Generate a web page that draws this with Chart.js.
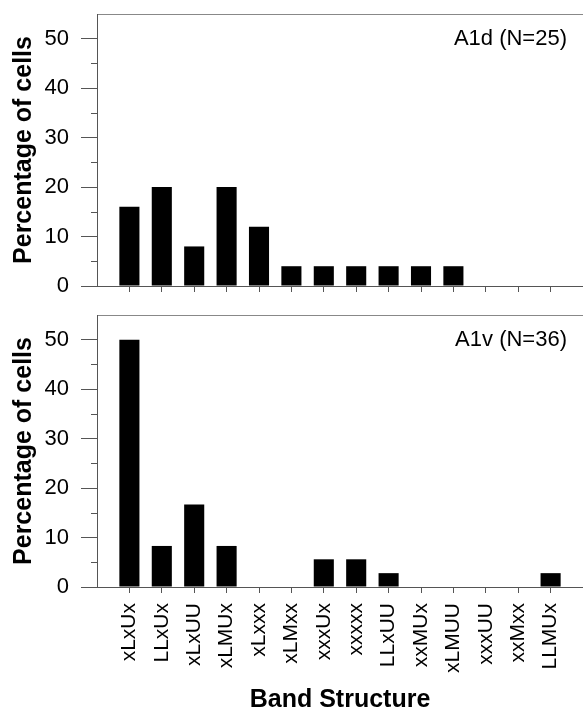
<!DOCTYPE html>
<html>
<head>
<meta charset="utf-8">
<script src="https://cdn.jsdelivr.net/npm/chart.js@4"></script>
<style>
  body { margin: 0; background: #fff; }
  canvas { display: block; }
</style>
</head>
<body>
<canvas id="top" width="583" height="300"></canvas>
<canvas id="bottom" width="583" height="413"></canvas>
<script>
const categories = ['xLxUx', 'LLxUx', 'xLxUU', 'xLMUx', 'xLxxx', 'xLMxx', 'xxxUx',
                    'xxxxx', 'LLxUU', 'xxMUx', 'xLMUU', 'xxxUU', 'xxMxx', 'LLMUx'];
const a1dValues = [16, 20, 8, 20, 12, 4, 4, 4, 4, 4, 4, 0, 0, 0];
const a1vValues = [50, 8.3, 16.7, 8.3, 0, 0, 5.6, 5.6, 2.8, 0, 0, 0, 0, 2.8];
const yTicks = [0, 10, 20, 30, 40, 50];
const minorTicks = [5, 15, 25, 35, 45];
const a1dLabel = 'A1d (N=25)';
const a1vLabel = 'A1v (N=36)';

const FONT = "'Liberation Sans', Arial, sans-serif";
const AXIS = '#555';

// minor y ticks + panel label inside the plot
const extras = {
  id: 'extras',
  afterDraw(chart) {
    const ctx = chart.ctx, y = chart.scales.y, area = chart.chartArea;
    ctx.save();
    ctx.strokeStyle = AXIS;
    ctx.lineWidth = 1;
    minorTicks.forEach(v => {
      const py = Math.round(y.getPixelForValue(v)) + 0.5;
      ctx.beginPath();
      ctx.moveTo(y.right - 6, py);
      ctx.lineTo(y.right, py);
      ctx.stroke();
    });
    ctx.fillStyle = '#000';
    ctx.font = '22px ' + FONT;
    ctx.textAlign = 'right';
    ctx.textBaseline = 'middle';
    ctx.fillText(chart.options.plugins.extras.label, area.right - 16, area.top + 25);
    ctx.restore();
  }
};

function makeChart(id, values, label, showLabels) {
  const xHeight = showLabels ? 126 : 14;
  new Chart(document.getElementById(id), {
    type: 'bar',
    data: {
      datasets: [{
        data: values.map((v, i) => ({ x: i, y: v })),
        backgroundColor: '#000',
        borderWidth: 0,
        categoryPercentage: 1,
        barPercentage: 0.62
      }]
    },
    options: {
      responsive: false,
      animation: false,
      layout: { padding: { top: showLabels ? 15 : 14, left: 0, right: 0, bottom: 0 } },
      scales: {
        x: {
          type: 'linear',
          offset: false,
          min: -1,
          max: categories.length,
          afterFit: s => { s.height = xHeight; s.paddingLeft = 0; s.paddingRight = 0; },
          afterBuildTicks: s => {
            s.ticks = categories.map((c, i) => ({ value: i }));
          },
          grid: { drawOnChartArea: false, offset: false, tickLength: 6, tickColor: AXIS },
          border: { color: AXIS },
          ticks: {
            display: showLabels,
            autoSkip: false,
            minRotation: 90,
            maxRotation: 90,
            padding: 10,
            color: '#000',
            font: { family: FONT, size: 21 },
            callback: v => categories[v] ?? ''
          },
          title: {
            display: showLabels,
            text: 'Band Structure',
            color: '#000',
            font: { family: FONT, size: 25, weight: 'bold', lineHeight: 1 },
            padding: 0
          }
        },
        x2: {
          position: 'top',
          type: 'linear',
          offset: false,
          min: -1,
          max: categories.length,
          afterFit: s => { s.height = 0; s.paddingLeft = 0; s.paddingRight = 0; },
          grid: { display: false, drawTicks: false },
          ticks: { display: false },
          border: { color: '#888' }
        },
        y: {
          min: 0,
          max: 55,
          afterFit: s => { s.width = 97; s.paddingTop = 0; s.paddingBottom = 0; },
          afterBuildTicks: s => {
            s.ticks = yTicks.map(v => ({ value: v }));
          },
          grid: { drawOnChartArea: false, tickLength: 16, tickColor: AXIS },
          border: { color: AXIS },
          ticks: {
            padding: 12,
            color: '#000',
            font: { family: FONT, size: 22 }
          },
          title: {
            display: true,
            text: 'Percentage of cells',
            color: '#000',
            font: { family: FONT, size: 25, weight: 'bold', lineHeight: 1 },
            padding: { top: 12, bottom: 0 }
          }
        }
      },
      plugins: {
        legend: { display: false },
        tooltip: { enabled: false },
        extras: { label }
      }
    },
    plugins: [extras]
  });
}

makeChart('top', a1dValues, a1dLabel, false);
makeChart('bottom', a1vValues, a1vLabel, true);
</script>
</body>
</html>
